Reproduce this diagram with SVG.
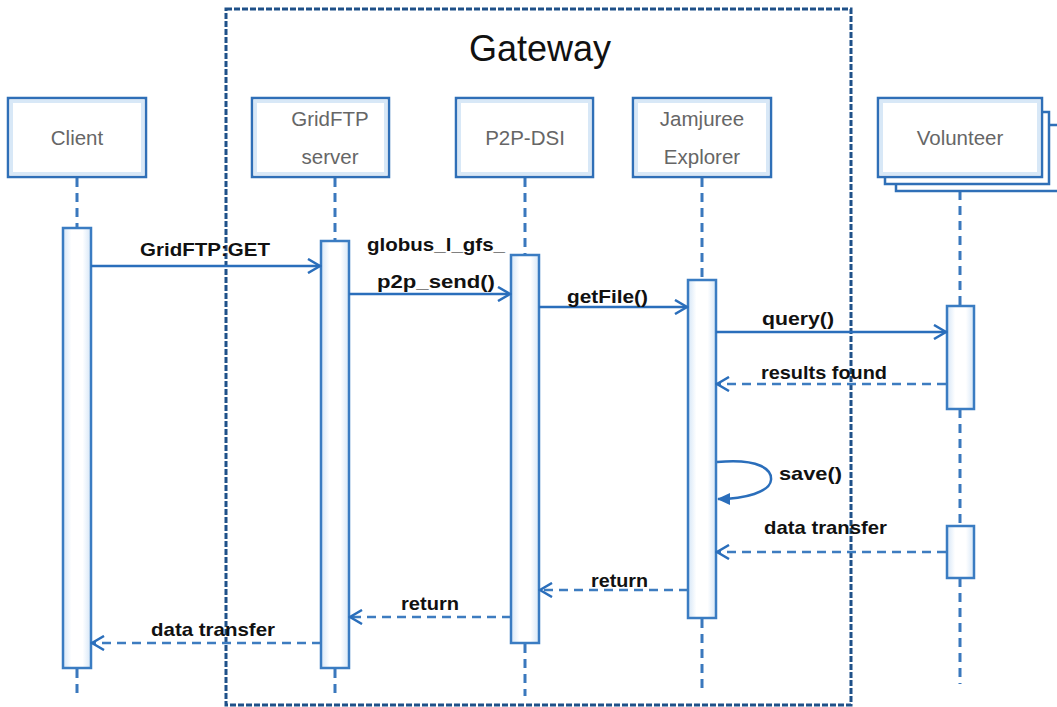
<svg xmlns="http://www.w3.org/2000/svg" width="1057" height="707" viewBox="0 0 1057 707">
<style>
.node{fill:#fff;stroke:#2f6fb7;stroke-width:2.5}
.inner{fill:none;stroke:#d8e8f7;stroke-width:3}
.ntext{font-family:"Liberation Sans",Arial,sans-serif;font-size:20.5px;fill:#666;text-anchor:middle}
.life{stroke:#3a78bd;stroke-width:3;stroke-dasharray:9 6;fill:none}
.act{fill:url(#actg);stroke:#3a7cc2;stroke-width:2.5}
.msg{stroke:#2a6ebb;stroke-width:2.5;fill:none}
.ret{stroke:#3d7cc0;stroke-width:2.5;fill:none;stroke-dasharray:9 6}
.lbl{font-family:"Liberation Sans",Arial,sans-serif;font-size:19px;font-weight:bold;fill:#111}
.gw{fill:none;stroke:#1f5189;stroke-width:3;stroke-dasharray:6 2}
</style>
<defs>
<linearGradient id="actg" x1="0" y1="0" x2="1" y2="0">
<stop offset="0" stop-color="#d5e6f7"/>
<stop offset="0.3" stop-color="#ffffff"/>
<stop offset="0.7" stop-color="#ffffff"/>
<stop offset="1" stop-color="#d5e6f7"/>
</linearGradient>
<marker id="open" markerWidth="16" markerHeight="16" refX="14" refY="8" orient="auto" markerUnits="userSpaceOnUse">
<path d="M2,1 L14,8 L2,15" fill="none" stroke="#2a6ebb" stroke-width="2.5"/>
</marker>
<marker id="filled" markerWidth="16" markerHeight="16" refX="12" refY="7" orient="auto" markerUnits="userSpaceOnUse">
<path d="M0,1 L13,7 L0,13 Z" fill="#2a6ebb"/>
</marker>
</defs>
<rect width="1057" height="707" fill="#fff"/>

<g id="gateway">
<rect class="gw" x="226" y="9" width="625" height="696"/>
<text x="540" y="61" font-family="Liberation Sans,Arial,sans-serif" font-size="36" text-anchor="middle" fill="#111">Gateway</text>
</g>

<g id="lifelines">
<line class="life" x1="77" y1="178" x2="77" y2="227"/>
<line class="life" x1="77" y1="669" x2="77" y2="696"/>
<line class="life" x1="335" y1="178" x2="335" y2="241"/>
<line class="life" x1="335" y1="669" x2="335" y2="696"/>
<line class="life" x1="525" y1="178" x2="525" y2="254"/>
<line class="life" x1="525" y1="644" x2="525" y2="696"/>
<line class="life" x1="702" y1="178" x2="702" y2="279"/>
<line class="life" x1="702" y1="619" x2="702" y2="692"/>
<line class="life" x1="960" y1="191" x2="960" y2="306"/>
<line class="life" x1="960" y1="409" x2="960" y2="525"/>
<line class="life" x1="960" y1="578" x2="960" y2="684"/>
</g>

<g id="client">
<rect class="node" x="8" y="98" width="138" height="79"/>
<rect class="inner" x="11.5" y="101.5" width="131" height="72"/>
<text class="ntext" x="77" y="145">Client</text>
<rect class="act" x="63" y="228" width="28" height="440"/>
</g>

<g id="gridftp">
<rect class="node" x="252" y="98" width="137" height="79"/>
<rect class="inner" x="255.5" y="101.5" width="130" height="72"/>
<text class="ntext" x="330" y="126">GridFTP</text>
<text class="ntext" x="330" y="164">server</text>
<rect class="act" x="321" y="241" width="28" height="427"/>
</g>

<g id="p2pdsi">
<rect class="node" x="456" y="98" width="137" height="79"/>
<rect class="inner" x="459.5" y="101.5" width="130" height="72"/>
<text class="ntext" x="525" y="145">P2P-DSI</text>
<rect class="act" x="511" y="255" width="28" height="388"/>
</g>

<g id="jamjuree">
<rect class="node" x="633" y="98" width="138" height="79"/>
<rect class="inner" x="636.5" y="101.5" width="131" height="72"/>
<text class="ntext" x="702" y="126">Jamjuree</text>
<text class="ntext" x="702" y="164">Explorer</text>
<rect class="act" x="688" y="280" width="28" height="338"/>
</g>

<g id="volunteer">
<rect class="node" x="896" y="125" width="170" height="66"/>
<rect class="node" x="885" y="112" width="164" height="72"/>
<rect class="node" x="878" y="98" width="164" height="79"/>
<rect class="inner" x="881.5" y="101.5" width="157" height="72"/>
<text class="ntext" x="960" y="145">Volunteer</text>
<rect class="act" x="947" y="306" width="27" height="103"/>
<rect class="act" x="947" y="526" width="27" height="52"/>
</g>

<g id="connectors">
<line class="msg" x1="91" y1="266" x2="320" y2="266" marker-end="url(#open)"/>
<line class="msg" x1="349" y1="294" x2="510" y2="294" marker-end="url(#open)"/>
<line class="msg" x1="539" y1="307" x2="687" y2="307" marker-end="url(#open)"/>
<line class="msg" x1="716" y1="332" x2="946" y2="332" marker-end="url(#open)"/>
<line class="ret" x1="946" y1="384" x2="717" y2="384" marker-end="url(#open)"/>
<path class="msg" d="M717,462 C760,458 772,470 771,480 C770,492 745,499 718,499" marker-end="url(#filled)"/>
<line class="ret" x1="946" y1="552" x2="717" y2="552" marker-end="url(#open)"/>
<line class="ret" x1="688" y1="590" x2="540" y2="590" marker-end="url(#open)"/>
<line class="ret" x1="511" y1="617" x2="350" y2="617" marker-end="url(#open)"/>
<line class="ret" x1="321" y1="643" x2="92" y2="643" marker-end="url(#open)"/>
</g>

<g id="labels">
<text class="lbl" x="140" y="256" textLength="130" lengthAdjust="spacingAndGlyphs">GridFTP:GET</text>
<text class="lbl" x="367" y="251" textLength="138" lengthAdjust="spacingAndGlyphs">globus_l_gfs_</text>
<text class="lbl" x="377" y="288" textLength="118" lengthAdjust="spacingAndGlyphs">p2p_send()</text>
<text class="lbl" x="567" y="303" textLength="81" lengthAdjust="spacingAndGlyphs">getFile()</text>
<text class="lbl" x="762" y="325" textLength="72" lengthAdjust="spacingAndGlyphs">query()</text>
<text class="lbl" x="761" y="379" textLength="126" lengthAdjust="spacingAndGlyphs">results found</text>
<text class="lbl" x="779" y="480" textLength="63" lengthAdjust="spacingAndGlyphs">save()</text>
<text class="lbl" x="764" y="534" textLength="123" lengthAdjust="spacingAndGlyphs">data transfer</text>
<text class="lbl" x="591" y="587" textLength="57" lengthAdjust="spacingAndGlyphs">return</text>
<text class="lbl" x="401" y="610" textLength="58" lengthAdjust="spacingAndGlyphs">return</text>
<text class="lbl" x="151" y="636" textLength="124" lengthAdjust="spacingAndGlyphs">data transfer</text>
</g>
</svg>
